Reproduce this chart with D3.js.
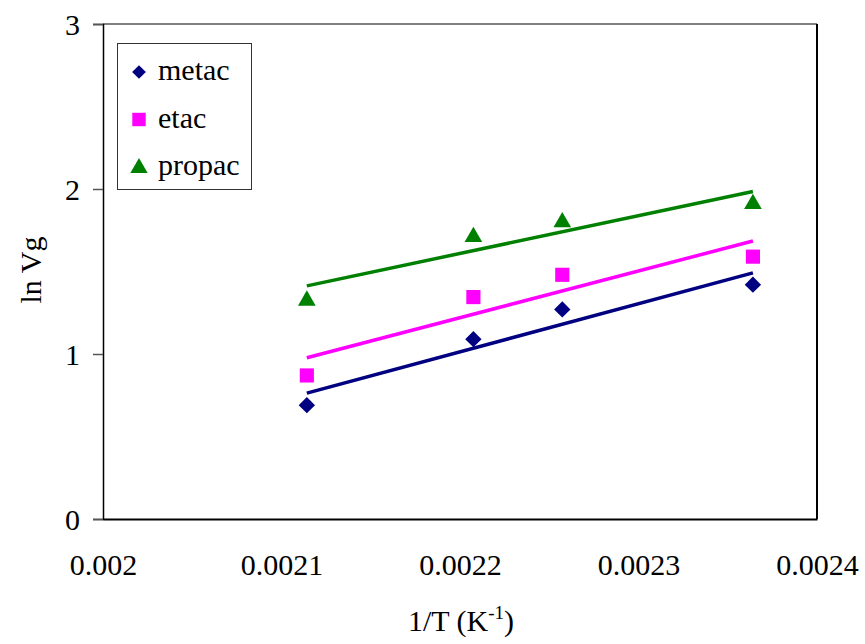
<!DOCTYPE html>
<html><head><meta charset="utf-8">
<script src="https://cdn.jsdelivr.net/npm/d3@7"></script>
<style>body{margin:0;background:#fff}svg{display:block}svg text{font-family:"Liberation Serif","Times New Roman",serif !important;fill:#000}</style>
</head><body>
<svg id="c" width="865" height="644"></svg>
<script>
const invT = [0.0021142, 0.0022075, 0.0022573, 0.0023641];
const metac = [0.69, 1.09, 1.27, 1.42];
const etac = [0.87, 1.345, 1.48, 1.59];
const propac = [1.33, 1.715, 1.805, 1.915];
const xTicks = [0.002, 0.0021, 0.0022, 0.0023, 0.0024];
const yTicks = [0, 1, 2, 3];
const seriesNames = ["metac", "etac", "propac"];
const seriesColors = ["#000080", "#FF00FF", "#008000"];
const seriesSymbols = [d3.symbolDiamond2, d3.symbolSquare, d3.symbolTriangle];

const svg = d3.select("#c");
const L = 103, R = 817, T = 24, B = 519;
const x = d3.scaleLinear().domain([0.002, 0.0024]).range([L, R]);
const y = d3.scaleLinear().domain([0, 3]).range([B, T]);

// plot border
svg.append("line").attr("x1", L).attr("x2", R).attr("y1", T).attr("y2", T).attr("stroke", "#808080").attr("stroke-width", 2);
svg.append("line").attr("x1", R).attr("x2", R).attr("y1", T).attr("y2", B).attr("stroke", "#000").attr("stroke-width", 2);

// y axis
const yAxis = svg.append("g").attr("transform", `translate(${L},0)`)
  .call(d3.axisLeft(y).tickValues(yTicks).tickSize(10).tickPadding(13).tickFormat(d3.format("d")))
  .attr("font-family", "Liberation Serif").attr("font-size", 30);
yAxis.select(".domain").attr("stroke", "#000").attr("stroke-width", 1.5);
yAxis.selectAll(".tick line").attr("stroke", "#555").attr("stroke-width", 1.5);
yAxis.selectAll(".tick text").attr("dy", "0.34em");

// x axis
const xAxis = svg.append("g").attr("transform", `translate(0,${B})`)
  .call(d3.axisBottom(x).tickValues(xTicks).tickSize(0).tickPadding(35).tickFormat(d => String(+d.toFixed(4))))
  .attr("font-family", "Liberation Serif").attr("font-size", 30);
xAxis.select(".domain").attr("stroke", "#000").attr("stroke-width", 2);
xAxis.selectAll(".tick text").attr("dy", "0.71em");

// axis titles
const xt = svg.append("text").attr("x", 461).attr("y", 631).attr("text-anchor", "middle").attr("font-size", 30);
xt.append("tspan").text("1/T (K");
xt.append("tspan").text("-1").attr("font-size", 19).attr("dy", -12);
xt.append("tspan").text(")").attr("dy", 12);

svg.append("text").attr("transform", "translate(41,270) rotate(-90)").attr("text-anchor", "middle").attr("font-size", 30).text("ln Vg");

// regression lines & points
const allSeries = [metac, etac, propac];
allSeries.forEach((vals, i) => {
  const mx = d3.mean(invT), my = d3.mean(vals);
  const sxy = d3.sum(invT, (xv, k) => (xv - mx) * (vals[k] - my));
  const sxx = d3.sum(invT, xv => (xv - mx) ** 2);
  const b = sxy / sxx, a = my - b * mx;
  const x0 = d3.min(invT), x1 = d3.max(invT);
  svg.append("line").attr("x1", x(x0)).attr("x2", x(x1)).attr("y1", y(a + b * x0)).attr("y2", y(a + b * x1))
    .attr("stroke", seriesColors[i]).attr("stroke-width", 3.5);
});
allSeries.forEach((vals, i) => {
  const sym = d3.symbol().type(seriesSymbols[i]).size(i === 0 ? 170 : (i === 1 ? 200 : 135));
  svg.append("g").selectAll("path").data(vals).join("path")
    .attr("transform", (d, k) => `translate(${x(invT[k])},${y(d) + (i === 2 ? 1 : 0)})`)
    .attr("d", sym).attr("fill", seriesColors[i]);
});

// legend
const lg = svg.append("g");
lg.append("rect").attr("x", 117.5).attr("y", 43.5).attr("width", 134).attr("height", 146)
  .attr("fill", "#fff").attr("stroke", "#333").attr("stroke-width", 1);
seriesNames.forEach((n, i) => {
  const cy = 72 + i * 47.5;
  const sym = d3.symbol().type(seriesSymbols[i]).size(i === 0 ? 120 : (i === 1 ? 180 : 130));
  lg.append("path").attr("d", sym).attr("transform", `translate(139,${cy + (i === 2 ? 1 : 0)})`).attr("fill", seriesColors[i]);
  lg.append("text").attr("x", 158).attr("y", cy + 8).attr("font-size", 30).text(n);
});
</script>
</body></html>
